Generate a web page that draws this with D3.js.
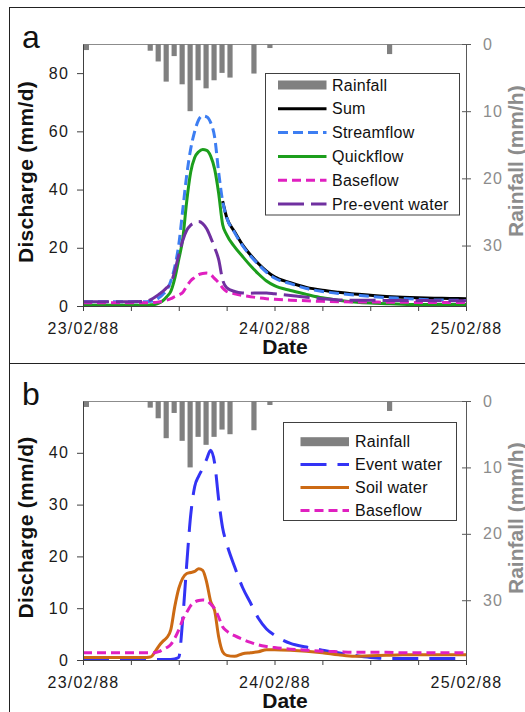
<!DOCTYPE html>
<html>
<head>
<meta charset="utf-8">
<script src="https://cdn.jsdelivr.net/npm/d3@7"></script>
<style>
  body { margin: 0; background: #fff; }
  svg { display: block; font-family: Arial, "Liberation Sans", sans-serif; }
</style>
</head>
<body>
<div id="chart"></div>
<script>
// hours since 23/02/88 00:00, shared by every discharge series
const hours = [0, 2, 4, 6, 8, 8.5, 9, 9.5, 10, 10.5, 11, 11.5, 12, 12.5, 13, 13.5, 14, 14.5, 15, 15.5,
  16, 16.5, 17, 17.5, 18, 19, 20, 21, 22, 23, 24, 26, 28, 30, 32, 34, 36, 38, 40, 42, 44, 46, 48];

// hourly rainfall (mm/h), hour 0..47
const rainfall = [0.9, 0, 0, 0, 0, 0, 0, 0, 1.0, 2.6, 5.6, 1.8, 6.0, 10.0, 5.4, 6.6, 5.4, 4.3, 5.0, 0,
  0, 4.4, 0, 0.6, 0, 0, 0, 0, 0, 0, 0, 0, 0, 0, 0, 0, 0, 0, 1.5, 0, 0, 0, 0, 0, 0, 0, 0, 0];

// panel a (mm/d)
const streamflow = [1.5, 1.5, 1.5, 1.5, 1.5, 1.6, 1.9, 2.8, 4.0, 5.5, 8.5, 13.5, 21, 33, 45, 54, 60, 64, 65.3, 65,
  63, 58, 46, 36, 30.5, 25.2, 20.7, 17.2, 14.2, 11.6, 9.6, 7.7, 6.0, 5.0, 4.3, 3.8, 3.3, 2.9, 2.6, 2.3, 2.1, 2.0, 1.9];
const sumFlow = [null, null, null, null, null, null, null, null, null, null, null, null, null, null, null, null, null, null, null, null,
  null, null, null, 36, 30.5, 25.5, 21, 17.5, 14.5, 12, 10, 8, 6.4, 5.4, 4.7, 4.1, 3.7, 3.3, 3.0, 2.8, 2.7, 2.6, 2.5];
const quickflow = [0.3, 0.3, 0.3, 0.3, 0.3, 0.4, 0.5, 1.0, 1.8, 3.2, 5.0, 9.5, 16, 23, 36, 46, 51, 53, 53.8, 53.5,
  51.5, 47, 38.7, 28, 24.5, 20.3, 17, 13.8, 11, 8.6, 7, 5.3, 4, 2.8, 2, 1.4, 1.0, 0.8, 0.6, 0.5, 0.5, 0.5, 0.5];
const baseflowA = [1.1, 1.1, 1.1, 1.1, 1.1, 1.15, 1.2, 1.4, 1.6, 2.0, 2.5, 3.2, 3.8, 4.6, 6.8, 8.7, 9.8, 10.8, 11.2, 11.3,
  10.8, 9.4, 8, 6.2, 5, 4.2, 3.6, 3.2, 2.8, 2.5, 2.3, 2.0, 1.8, 1.6, 1.5, 1.4, 1.4, 1.3, 1.3, 1.2, 1.2, 1.2, 1.2];
const preEvent = [1.5, 1.5, 1.5, 1.5, 1.6, 2.2, 3, 4, 5, 6.3, 7.8, 12, 17.5, 22.5, 26, 27.8, 28.6, 29, 28.3, 26.5,
  23.5, 20, 16, 9, 6.3, 5, 4.5, 4.4, 4.5, 4.5, 4.2, 3.6, 3.0, 2.5, 2.1, 2.0, 2.0, 1.9, 1.9, 1.9, 1.8, 1.8, 1.8];

// panel b (mm/d)
const eventWater = [0.1, 0.1, 0.1, 0.1, 0.1, 0.1, 0.1, 0.1, 0.1, 0.1, 0.1, 0.2, 0.5, 8, 18.5, 28, 33.5, 35.5, 37, 38.8,
  40.5, 38, 31, 25.5, 22.5, 18, 14, 11, 8, 6, 4.8, 3.2, 2.5, 1.9, 1.4, 0.9, 0.5, 0.3, 0.3, 0.3, 0.3, 0.3, 0.3];
const soilWater = [0.5, 0.5, 0.5, 0.5, 0.5, 0.6, 1.5, 2.7, 3.6, 4.3, 5.8, 10.3, 13.8, 15.8, 16.7, 16.9, 17.1, 17.6, 17.3, 15,
  11.3, 9.5, 4.5, 1.6, 0.9, 0.7, 1.2, 1.4, 1.6, 2.0, 2.0, 1.9, 1.7, 1.4, 1.0, 0.7, 0.8, 0.9, 1.0, 1.0, 1.0, 1.0, 1.0];
const baseflowB = [1.4, 1.4, 1.4, 1.4, 1.4, 1.4, 1.4, 1.6, 2.0, 2.4, 3.0, 4.2, 5.8, 7.8, 9.2, 10.5, 11.2, 11.5, 11.6, 11.5,
  10.8, 9.9, 8.3, 6.4, 5.6, 4.7, 4.0, 3.4, 2.9, 2.6, 2.4, 2.1, 1.9, 1.7, 1.6, 1.5, 1.5, 1.5, 1.4, 1.4, 1.4, 1.4, 1.4];

const dayLabels = ['23/02/88', '24/02/88', '25/02/88'];
const ticksA = [0, 20, 40, 60, 80];
const ticksB = [0, 10, 20, 30, 40];
const rainTicks = [0, 10, 20, 30];

const width = 525, height = 712;
const t0 = new Date(1988, 1, 23);
const toDate = h => new Date(t0.getTime() + h * 3600e3);

const svg = d3.select('#chart').append('svg')
    .attr('width', width)
    .attr('height', height);

// outer panel frames
svg.append('rect').attr('x', 9.5).attr('y', 7.5).attr('width', 600).attr('height', 356)
    .attr('fill', 'none').attr('stroke', '#222');
svg.append('rect').attr('x', 9.5).attr('y', 363.5).attr('width', 600).attr('height', 400)
    .attr('fill', 'none').attr('stroke', '#222');

const x = d3.scaleTime().domain([toDate(0), toDate(48)]).range([83, 466]);

const panels = [
  {
    letter: 'a', letterY: 48, top: 44, bottom: 306, yMax: 90, yTicks: ticksA,
    series: [
      {name: 'Sum', values: sumFlow, color: '#000', dash: null},
      {name: 'Streamflow', values: streamflow, color: '#3d7ef2', dash: '10,5'},
      {name: 'Quickflow', values: quickflow, color: '#1c9e1c', dash: null},
      {name: 'Baseflow', values: baseflowA, color: '#e020c0', dash: '9,5'},
      {name: 'Pre-event water', values: preEvent, color: '#7030a0', dash: '26,7'}
    ],
    legend: {x: 265.5, y: 73.5, w: 194, h: 141.5, row0: 85, step: 23.8, sx: 278, sw: 48.5, tx: 332},
    legendOrder: ['Sum', 'Streamflow', 'Quickflow', 'Baseflow', 'Pre-event water']
  },
  {
    letter: 'b', letterY: 405, top: 401, bottom: 660, yMax: 50, yTicks: ticksB,
    series: [
      {name: 'Event water', values: eventWater, color: '#3333f5', dash: '26,11'},
      {name: 'Soil water', values: soilWater, color: '#cc6a14', dash: null},
      {name: 'Baseflow', values: baseflowB, color: '#e020c0', dash: '9,5'}
    ],
    legend: {x: 283.5, y: 422.5, w: 173, h: 98, row0: 441.7, step: 22.9, sx: 300.5, sw: 48.5, tx: 355},
    legendOrder: ['Event water', 'Soil water', 'Baseflow']
  }
];

panels.forEach(p => {
  const g = svg.append('g');
  const y = d3.scaleLinear().domain([0, p.yMax]).range([p.bottom, p.top]);
  const yR = d3.scaleLinear().domain([0, 39]).range([p.top, p.bottom]);

  // top frame line of plot area
  g.append('line')
      .attr('x1', 83).attr('x2', 466).attr('y1', p.top + 0.5).attr('y2', p.top + 0.5)
      .attr('stroke', '#8c8c8c');

  // rainfall bars hanging from the top
  const rainData = rainfall.map((v, i) => ({h: i, v})).filter(d => d.v > 0);
  g.selectAll('rect.rain')
      .data(rainData)
    .join('rect')
      .attr('class', 'rain')
      .attr('x', d => x(toDate(d.h + 0.1)))
      .attr('width', d => x(toDate(d.h + 0.75)) - x(toDate(d.h + 0.1)))
      .attr('y', p.top)
      .attr('height', d => yR(d.v) - p.top)
      .attr('fill', '#808080');

  // discharge lines
  const line = d3.line()
      .defined(d => d.v != null)
      .x(d => x(toDate(d.h)))
      .y(d => y(d.v))
      .curve(d3.curveMonotoneX);

  p.series.forEach(s => {
    g.append('path')
        .datum(hours.map((h, i) => ({h, v: s.values[i]})))
        .attr('d', line)
        .attr('fill', 'none')
        .attr('stroke', s.color)
        .attr('stroke-width', 3)
        .attr('stroke-dasharray', s.dash);
  });

  // left axis
  const yAxis = g.append('g')
      .attr('transform', 'translate(83,0)')
      .call(d3.axisLeft(y).tickValues(p.yTicks).tickSize(6).tickSizeOuter(0).tickPadding(8));
  yAxis.select('.domain').attr('stroke', '#404040');
  yAxis.selectAll('.tick line').attr('stroke', '#404040');
  yAxis.selectAll('text').attr('font-size', 16).attr('fill', '#1a1a1a')
      .attr('font-family', 'Arial, "Liberation Sans", sans-serif').style('letter-spacing', '1.2px');

  // bottom axis
  const xAxis = g.append('g')
      .attr('transform', `translate(0,${p.bottom})`)
      .call(d3.axisBottom(x)
        .tickValues(d3.range(0, 49, 6).map(toDate))
        .tickSize(5).tickSizeOuter(0).tickPadding(12)
        .tickFormat((d, i) => i % 4 === 0 ? dayLabels[i / 4] : ''));
  xAxis.select('.domain').attr('stroke', '#404040');
  xAxis.selectAll('.tick line').attr('stroke', '#404040');
  xAxis.selectAll('text').attr('font-size', 16).attr('fill', '#1a1a1a')
      .attr('font-family', 'Arial, "Liberation Sans", sans-serif').style('letter-spacing', '1.2px');

  // right rainfall axis
  const rAxis = g.append('g')
      .attr('transform', 'translate(466,0)')
      .call(d3.axisRight(yR).tickValues(rainTicks).tickSize(5).tickSizeOuter(0).tickPadding(12));
  rAxis.select('.domain').attr('stroke', '#595959');
  rAxis.selectAll('.tick line').attr('x1', -4).attr('stroke', '#595959');
  rAxis.selectAll('text').attr('font-size', 16).attr('fill', '#8c8c8c')
      .attr('font-family', 'Arial, "Liberation Sans", sans-serif').style('letter-spacing', '1.2px');

  // titles
  g.append('text')
      .attr('x', 285).attr('y', p.bottom + 48)
      .attr('text-anchor', 'middle')
      .attr('font-size', 21).attr('font-weight', 'bold').attr('fill', '#111')
      .text('Date');
  g.append('text')
      .attr('transform', `translate(33,${(p.top + p.bottom) / 2 - 3}) rotate(-90)`)
      .attr('text-anchor', 'middle')
      .attr('font-size', 21).attr('font-weight', 'bold').attr('fill', '#111')
      .style('letter-spacing', '0.3px')
      .text('Discharge (mm/d)');
  g.append('text')
      .attr('transform', `translate(523,${p.top + 193}) rotate(-90)`)
      .attr('font-size', 21).attr('font-weight', 'bold').attr('fill', '#8c8c8c')
      .text('Rainfall (mm/h)');
  g.append('text')
      .attr('x', 22).attr('y', p.letterY)
      .attr('font-size', 32).attr('fill', '#111')
      .text(p.letter);

  // legend
  const L = p.legend;
  const lg = g.append('g');
  lg.append('rect')
      .attr('x', L.x).attr('y', L.y).attr('width', L.w).attr('height', L.h)
      .attr('fill', '#fff').attr('stroke', '#404040');
  const items = [{name: 'Rainfall', bar: true}]
      .concat(p.legendOrder.map(n => p.series.find(s => s.name === n)));
  items.forEach((it, i) => {
    const cy = L.row0 + i * L.step;
    if (it.bar) {
      lg.append('rect')
          .attr('x', L.sx).attr('y', cy - 4.5).attr('width', L.sw).attr('height', 9)
          .attr('fill', '#808080');
    } else {
      lg.append('line')
          .attr('x1', L.sx).attr('x2', L.sx + L.sw).attr('y1', cy).attr('y2', cy)
          .attr('stroke', it.color).attr('stroke-width', 3)
          .attr('stroke-dasharray', it.dash);
    }
    lg.append('text')
        .attr('x', L.tx).attr('y', cy + 5.5)
        .attr('font-size', 16).attr('fill', '#111')
        .style('letter-spacing', '0.25px')
        .text(it.name);
  });
});
</script>
</body>
</html>
